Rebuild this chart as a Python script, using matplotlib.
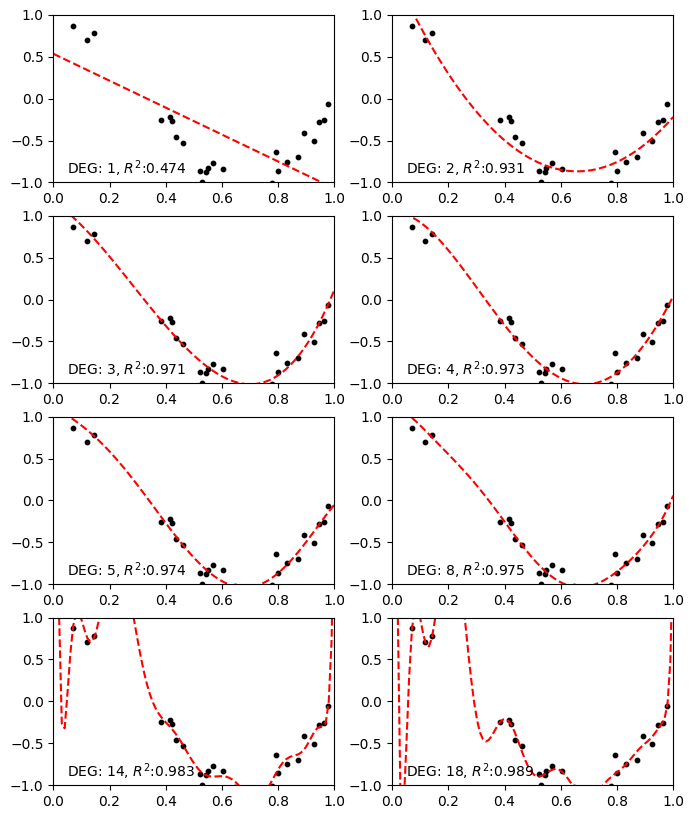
import warnings
import numpy as np
import matplotlib
matplotlib.use("Agg")
import matplotlib.pyplot as plt

warnings.simplefilter("ignore")

# sample points (x sorted)
x_pts = [0.0202, 0.0710, 0.0871, 0.1183, 0.1434, 0.3834, 0.4147, 0.4237,
         0.4376, 0.4615, 0.5218, 0.5289, 0.5449, 0.5488, 0.5680, 0.6028,
         0.6399, 0.6459, 0.7152, 0.7782, 0.7805, 0.7917, 0.7992, 0.8326,
         0.8700, 0.8918, 0.9256, 0.9447, 0.9637, 0.9786]
y_pts = [1.0819, 0.8703, 1.1439, 0.7032, 0.7849, -0.2527, -0.2207, -0.2660,
         -0.4563, -0.5300, -0.8648, -0.9946, -0.8746, -0.8341, -0.7709, -0.8348,
         -1.0308, -1.0254, -1.0788, -1.0071, -1.0301, -0.6362, -0.8623, -0.7533,
         -0.7002, -0.4104, -0.5049, -0.2791, -0.2599, -0.0619]

degrees = [1, 2, 3, 4, 5, 8, 14, 18]
r2_labels = ["0.474", "0.931", "0.971", "0.973", "0.974", "0.975", "0.983", "0.989"]

X = np.array(x_pts)
y = np.array(y_pts)
x_test = np.linspace(0, 1, 100)

fig, axes = plt.subplots(4, 2, figsize=(6.94, 8.19))
fig.subplots_adjust(left=0.0768, right=0.970, bottom=0.0415, top=0.9817,
                    wspace=0.205, hspace=0.2)

for ax, deg, r2 in zip(axes.flat, degrees, r2_labels):
    coef = np.polyfit(X, y, deg)
    ax.plot(x_test, np.polyval(coef, x_test), "r--")
    ax.scatter(X, y, s=10, c="k")
    ax.set_xlim(0, 1)
    ax.set_ylim(-1, 1)
    ax.text(0.05, -0.9, "DEG: %d, $R^2$:%s" % (deg, r2))

fig.savefig("out.png")
